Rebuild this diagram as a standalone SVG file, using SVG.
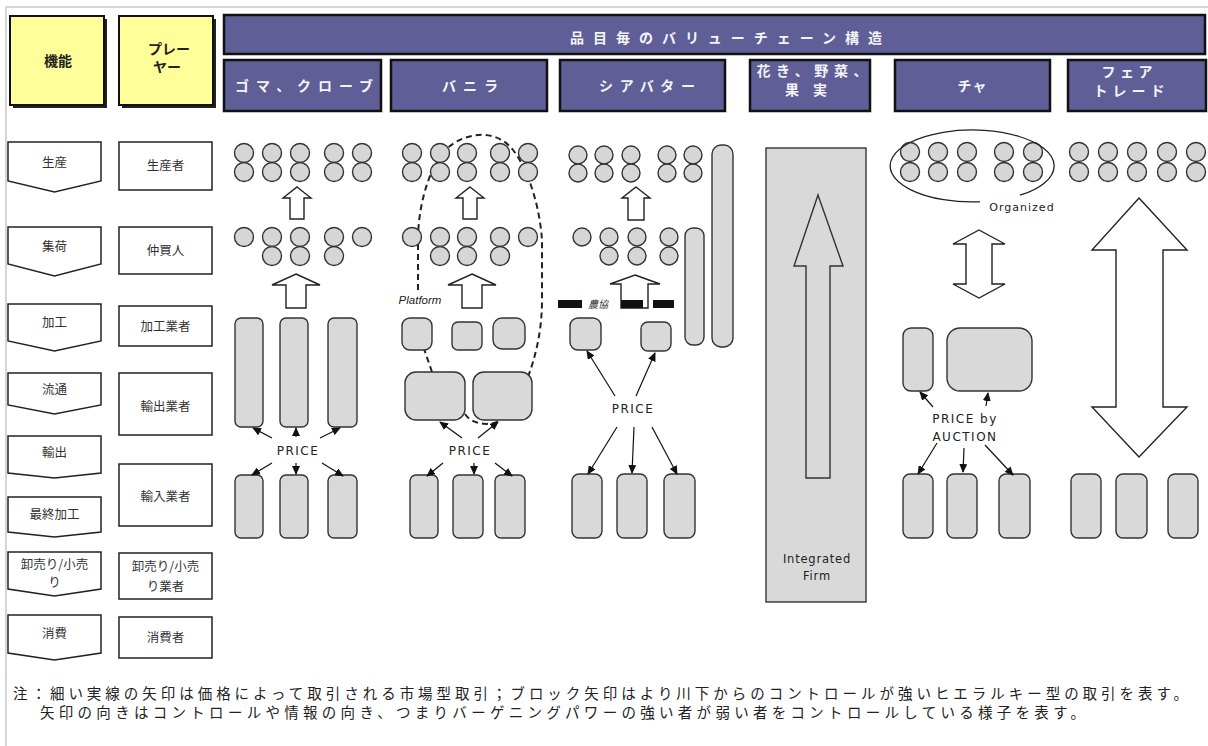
<svg xmlns="http://www.w3.org/2000/svg" width="1208" height="746" viewBox="0 0 1208 746">
<style>
.frame{fill:none;stroke:#c8c8c8;stroke-width:1.5}
.ybox{fill:#ffff99;stroke:#111;stroke-width:2}
.shadow{fill:#222}
.bbox{fill:#5f5e97;stroke:#111;stroke-width:2.5}
.htxt{font-family:"Noto Sans CJK JP",sans-serif;font-weight:bold;fill:#f4f4f8;font-size:14px;text-anchor:middle}
.ytxt{font-family:"Noto Sans CJK JP",sans-serif;font-weight:bold;fill:#222;font-size:14px;text-anchor:middle}
.lbox{fill:#fff;stroke:#222;stroke-width:1.5}
.ltxt{font-family:"Noto Sans CJK JP",sans-serif;fill:#333;font-size:12.5px;text-anchor:middle}
.c{fill:#d6d6d6;stroke:#333;stroke-width:1.4}
.g{fill:#d9d9d9;stroke:#333;stroke-width:1.4}
.blk{fill:#fff;stroke:#222;stroke-width:1.4}
.conn{stroke:#111;stroke-width:1.2;fill:none;marker-end:url(#ah)}
.dash{stroke:#222;stroke-width:2;fill:none;stroke-dasharray:6 4}
.etxt{font-family:"DejaVu Sans",sans-serif;font-size:12px;fill:#222;letter-spacing:1.5px;text-anchor:middle}
.note{font-family:"Noto Sans CJK JP",sans-serif;font-size:14.5px;fill:#222}
</style>
<defs>
<marker id="ah" markerWidth="9" markerHeight="8" refX="8" refY="4" orient="auto" markerUnits="userSpaceOnUse">
<path d="M0,0 L9,4 L0,8 Z" fill="#111"/>
</marker>
</defs>
<rect width="1208" height="746" fill="#fff"/>
<path class="frame" d="M6,746 V7 H1208"/>

<g id="hdr-kinou">
<rect class="shadow" x="13" y="19" width="94" height="89"/>
<rect class="ybox" x="10" y="16" width="94" height="89"/>
<text class="ytxt" x="58" y="66" font-size="15">機能</text>
</g>
<g id="hdr-player">
<rect class="shadow" x="122" y="19" width="94" height="89"/>
<rect class="ybox" x="119" y="16" width="94" height="89"/>
<text class="ytxt" x="169" y="54">プレー</text>
<text class="ytxt" x="167" y="72">ヤー</text>
</g>
<g id="hdr-title">
<rect class="bbox" x="224" y="15" width="981" height="39"/>
<text class="htxt" x="726" y="43" font-size="15" textLength="312" lengthAdjust="spacing">品目毎のバリューチェーン構造</text>
</g>
<g id="hdr-goma">
<rect class="bbox" x="224" y="60" width="157" height="51"/>
<text class="htxt" x="304" y="91" textLength="138" lengthAdjust="spacing">ゴマ、クローブ</text>
</g>
<g id="hdr-vanilla">
<rect class="bbox" x="391" y="60" width="156" height="51"/>
<text class="htxt" x="470" y="91" textLength="56" lengthAdjust="spacing">バニラ</text>
</g>
<g id="hdr-shea">
<rect class="bbox" x="560" y="60" width="165" height="51"/>
<text class="htxt" x="647" y="91" textLength="96" lengthAdjust="spacing">シアバター</text>
</g>
<g id="hdr-flower">
<rect class="bbox" x="750" y="60" width="120" height="51"/>
<text class="htxt" x="812" y="76" font-size="13.5" textLength="111" lengthAdjust="spacing">花き、野菜、</text>
<text class="htxt" x="806" y="95" font-size="13.5" textLength="42" lengthAdjust="spacing">果実</text>
</g>
<g id="hdr-tea">
<rect class="bbox" x="895" y="60" width="155" height="51"/>
<text class="htxt" x="972" y="91" textLength="29" lengthAdjust="spacing">チャ</text>
</g>
<g id="hdr-fair">
<rect class="bbox" x="1068" y="60" width="138" height="51"/>
<text class="htxt" x="1127" y="77" font-size="13.5" textLength="51" lengthAdjust="spacing">フェア</text>
<text class="htxt" x="1129" y="96" font-size="13.5" textLength="71" lengthAdjust="spacing">トレード</text>
</g>

<g id="fn-seisan"><polygon class="lbox" points="8,142 101,142 101,181 54.5,192 8,181"/><text class="ltxt" x="54.5" y="167">生産</text></g>
<g id="fn-shuka"><polygon class="lbox" points="8,227 101,227 101,264 54.5,276 8,264"/><text class="ltxt" x="54.5" y="251">集荷</text></g>
<g id="fn-kakou"><polygon class="lbox" points="8,304 101,304 101,341 54.5,351 8,341"/><text class="ltxt" x="54.5" y="327">加工</text></g>
<g id="fn-ryutsu"><polygon class="lbox" points="8,373 101,373 101,405 54.5,414 8,405"/><text class="ltxt" x="54.5" y="394">流通</text></g>
<g id="fn-yushutsu"><polygon class="lbox" points="8,436 101,436 101,473 54.5,478 8,473"/><text class="ltxt" x="54.5" y="457">輸出</text></g>
<g id="fn-saishu"><polygon class="lbox" points="8,497 101,497 101,532 54.5,537 8,532"/><text class="ltxt" x="54.5" y="519">最終加工</text></g>
<g id="fn-oroshi"><polygon class="lbox" points="8,552 101,552 101,589 54.5,596 8,589"/><text class="ltxt" x="54.5" y="569" font-size="12">卸売り/小売</text><text class="ltxt" x="54.5" y="587" font-size="12">り</text></g>
<g id="fn-shohi"><polygon class="lbox" points="8,615 101,615 101,653 54.5,660 8,653"/><text class="ltxt" x="54.5" y="638">消費</text></g>

<g id="pl-seisansha"><rect class="lbox" x="119" y="142" width="93" height="48"/><text class="ltxt" x="165.5" y="170">生産者</text></g>
<g id="pl-nakagai"><rect class="lbox" x="119" y="227" width="93" height="47"/><text class="ltxt" x="165.5" y="255">仲買人</text></g>
<g id="pl-kakou"><rect class="lbox" x="119" y="306" width="93" height="40"/><text class="ltxt" x="165.5" y="331">加工業者</text></g>
<g id="pl-yushutsu"><rect class="lbox" x="119" y="373" width="93" height="62"/><text class="ltxt" x="165.5" y="411">輸出業者</text></g>
<g id="pl-yunyu"><rect class="lbox" x="119" y="464" width="93" height="62"/><text class="ltxt" x="165.5" y="501">輸入業者</text></g>
<g id="pl-oroshi"><rect class="lbox" x="119" y="553" width="93" height="46"/><text class="ltxt" x="165.5" y="571" font-size="12">卸売り/小売</text><text class="ltxt" x="165.5" y="591" font-size="12">り業者</text></g>
<g id="pl-shohi"><rect class="lbox" x="119" y="617" width="93" height="41"/><text class="ltxt" x="165.5" y="642">消費者</text></g>

<g id="col-goma">
<g>
<circle class="c" cx="244" cy="153" r="9.5"/><circle class="c" cx="272" cy="153" r="9.5"/><circle class="c" cx="300" cy="153" r="9.5"/><circle class="c" cx="334" cy="153" r="9.5"/><circle class="c" cx="362" cy="153" r="9.5"/>
<circle class="c" cx="244" cy="172" r="9.5"/><circle class="c" cx="272" cy="172" r="9.5"/><circle class="c" cx="300" cy="172" r="9.5"/><circle class="c" cx="334" cy="172" r="9.5"/><circle class="c" cx="362" cy="172" r="9.5"/>
<circle class="c" cx="244" cy="237" r="9.5"/><circle class="c" cx="272" cy="237" r="9.5"/><circle class="c" cx="300" cy="237" r="9.5"/><circle class="c" cx="334" cy="237" r="9.5"/><circle class="c" cx="362" cy="237" r="9.5"/>
<circle class="c" cx="272" cy="256" r="9.5"/><circle class="c" cx="300" cy="256" r="9.5"/><circle class="c" cx="334" cy="256" r="9.5"/>
</g>
<polygon class="blk" points="297,187 311,198 304,198 304,219 290,219 290,198 283,198"/>
<polygon class="blk" points="296,274 320,285 306,285 306,308 286,308 286,285 272,285"/>
<rect class="g" x="235" y="318" width="28" height="109" rx="6"/>
<rect class="g" x="280" y="318" width="28" height="109" rx="6"/>
<rect class="g" x="328" y="318" width="29" height="109" rx="6"/>
<text class="etxt" x="298" y="455">PRICE</text>
<rect class="g" x="235" y="475" width="28" height="63" rx="6"/>
<rect class="g" x="280" y="475" width="28" height="63" rx="6"/>
<rect class="g" x="328" y="475" width="29" height="63" rx="6"/>
</g>

<g id="col-vanilla">
<path class="dash" d="M432,372 C428,360 424,350 420,335"/>
<path class="dash" d="M418,290 L418,240 C418,205 430,162 450,146 C466,133 496,128 513,150 C530,172 540,210 542,240 L542,300 C542,330 536,355 528,377"/>
<path class="dash" d="M465,414 C472,425 490,426 499,421"/>
<g>
<circle class="c" cx="412" cy="153" r="9.5"/><circle class="c" cx="440" cy="153" r="9.5"/><circle class="c" cx="467" cy="153" r="9.5"/><circle class="c" cx="500" cy="153" r="9.5"/><circle class="c" cx="528" cy="153" r="9.5"/>
<circle class="c" cx="412" cy="172" r="9.5"/><circle class="c" cx="440" cy="172" r="9.5"/><circle class="c" cx="467" cy="172" r="9.5"/><circle class="c" cx="500" cy="172" r="9.5"/><circle class="c" cx="528" cy="172" r="9.5"/>
<circle class="c" cx="412" cy="237" r="9.5"/><circle class="c" cx="440" cy="237" r="9.5"/><circle class="c" cx="467" cy="237" r="9.5"/><circle class="c" cx="500" cy="237" r="9.5"/><circle class="c" cx="528" cy="237" r="9.5"/>
<circle class="c" cx="440" cy="256" r="9.5"/><circle class="c" cx="467" cy="256" r="9.5"/><circle class="c" cx="500" cy="256" r="9.5"/>
</g>
<polygon class="blk" points="470,187 484,198 477,198 477,219 463,219 463,198 456,198"/>
<polygon class="blk" points="472,274 496,285 482,285 482,308 462,308 462,285 448,285"/>
<text x="420" y="304" font-family="Liberation Sans, sans-serif" font-style="italic" font-size="11.5" fill="#222" text-anchor="middle">Platform</text>
<rect class="g" x="402" y="318" width="30" height="32" rx="8"/>
<rect class="g" x="452" y="322" width="30" height="28" rx="6"/>
<rect class="g" x="493" y="318" width="32" height="31" rx="9"/>
<rect class="g" x="405" y="372" width="60" height="48" rx="11"/>
<rect class="g" x="473" y="372" width="59" height="48" rx="11"/>
<text class="etxt" x="470" y="455">PRICE</text>
<rect class="g" x="410" y="475" width="28" height="63" rx="6"/>
<rect class="g" x="453" y="475" width="30" height="63" rx="6"/>
<rect class="g" x="495" y="475" width="30" height="63" rx="6"/>
</g>

<g id="col-shea">
<g>
<circle class="c" cx="578" cy="155" r="9"/><circle class="c" cx="604" cy="155" r="9"/><circle class="c" cx="631" cy="155" r="9"/><circle class="c" cx="667" cy="155" r="9"/><circle class="c" cx="693" cy="155" r="9"/>
<circle class="c" cx="578" cy="173" r="9"/><circle class="c" cx="604" cy="173" r="9"/><circle class="c" cx="631" cy="173" r="9"/><circle class="c" cx="667" cy="173" r="9"/><circle class="c" cx="693" cy="173" r="9"/>
<circle class="c" cx="582" cy="237" r="9"/><circle class="c" cx="609" cy="237" r="9"/><circle class="c" cx="637" cy="237" r="9"/><circle class="c" cx="669" cy="237" r="9"/>
<circle class="c" cx="609" cy="256" r="9"/><circle class="c" cx="637" cy="256" r="9"/><circle class="c" cx="669" cy="256" r="9"/>
</g>
<rect class="g" x="685" y="228" width="19" height="117" rx="8"/>
<rect class="g" x="712" y="145" width="21" height="202" rx="9"/>
<polygon class="blk" points="636,187 650,198 644,198 644,220 628,220 628,198 622,198"/>
<polygon class="blk" points="635,275 660,284 648,284 648,308 621,308 621,284 610,284"/>
<rect x="558" y="300" width="24" height="8" fill="#111"/>
<rect x="621" y="300" width="22" height="8" fill="#111"/>
<rect x="653" y="300" width="21" height="8" fill="#111"/>
<text x="598" y="308" font-family="Noto Sans CJK JP, sans-serif" font-style="italic" font-size="10" fill="#333" text-anchor="middle">農協</text>
<rect class="g" x="570" y="318" width="31" height="32" rx="8"/>
<rect class="g" x="641" y="322" width="30" height="29" rx="7"/>
<text class="etxt" x="633" y="413">PRICE</text>
<rect class="g" x="572" y="474" width="30" height="64" rx="7"/>
<rect class="g" x="617" y="474" width="30" height="64" rx="7"/>
<rect class="g" x="664" y="474" width="31" height="64" rx="7"/>
</g>

<g id="col-flower">
<rect class="g" x="766" y="148" width="100" height="454"/>
<polygon class="g" points="818,195 843,266 830,266 830,478 806,478 806,266 794,266"/>
<text x="817" y="563" font-family="DejaVu Sans, sans-serif" font-size="11.5" fill="#222" text-anchor="middle" letter-spacing="0.8">Integrated</text>
<text x="817" y="580" font-family="DejaVu Sans, sans-serif" font-size="11.5" fill="#222" text-anchor="middle" letter-spacing="0.8">Firm</text>
</g>

<g id="col-tea">
<g>
<circle class="c" cx="910" cy="152" r="9.5"/><circle class="c" cx="938" cy="152" r="9.5"/><circle class="c" cx="967" cy="152" r="9.5"/><circle class="c" cx="1004" cy="152" r="9.5"/><circle class="c" cx="1033" cy="152" r="9.5"/>
<circle class="c" cx="910" cy="172" r="9.5"/><circle class="c" cx="938" cy="172" r="9.5"/><circle class="c" cx="967" cy="172" r="9.5"/><circle class="c" cx="1004" cy="172" r="9.5"/><circle class="c" cx="1033" cy="172" r="9.5"/>
</g>
<path d="M1020,195.2 A82,36 0 1 0 980,201.8" fill="none" stroke="#222" stroke-width="1.3"/>
<text x="1022" y="211" font-family="DejaVu Sans, sans-serif" font-size="11" fill="#222" text-anchor="middle" letter-spacing="1">Organized</text>
<polygon class="blk" points="979,230 1005,244 992,244 992,284 1005,284 979,298 953,284 966,284 966,244 953,244"/>
<rect class="g" x="903" y="328" width="30" height="63" rx="8"/>
<rect class="g" x="947" y="328" width="85" height="63" rx="13"/>
<text class="etxt" x="965" y="423" letter-spacing="1">PRICE by</text>
<text class="etxt" x="965" y="441" letter-spacing="1">AUCTION</text>
<rect class="g" x="903" y="474" width="30" height="64" rx="7"/>
<rect class="g" x="947" y="474" width="30" height="64" rx="7"/>
<rect class="g" x="999" y="474" width="31" height="64" rx="7"/>
</g>

<g id="col-fair">
<g>
<circle class="c" cx="1079" cy="152" r="9.5"/><circle class="c" cx="1108" cy="152" r="9.5"/><circle class="c" cx="1137" cy="152" r="9.5"/><circle class="c" cx="1167" cy="152" r="9.5"/><circle class="c" cx="1196" cy="152" r="9.5"/>
<circle class="c" cx="1079" cy="172" r="9.5"/><circle class="c" cx="1108" cy="172" r="9.5"/><circle class="c" cx="1137" cy="172" r="9.5"/><circle class="c" cx="1167" cy="172" r="9.5"/><circle class="c" cx="1196" cy="172" r="9.5"/>
</g>
<polygon class="blk" points="1139,198 1187,250 1163,250 1163,407 1187,407 1139,457 1092,407 1116,407 1116,250 1092,250"/>
<rect class="g" x="1071" y="474" width="30" height="64" rx="7"/>
<rect class="g" x="1116" y="474" width="31" height="64" rx="7"/>
<rect class="g" x="1168" y="474" width="30" height="64" rx="7"/>
</g>

<g id="connectors">
<line class="conn" x1="272" y1="438" x2="253" y2="428"/>
<line class="conn" x1="296" y1="437" x2="296" y2="428"/>
<line class="conn" x1="320" y1="438" x2="340" y2="428"/>
<line class="conn" x1="272" y1="463" x2="252" y2="475"/>
<line class="conn" x1="296" y1="463" x2="296" y2="474"/>
<line class="conn" x1="322" y1="463" x2="343" y2="476"/>
<line class="conn" x1="462" y1="438" x2="440" y2="422"/>
<line class="conn" x1="478" y1="438" x2="498" y2="422"/>
<line class="conn" x1="443" y1="463" x2="427" y2="476"/>
<line class="conn" x1="474" y1="463" x2="474" y2="474"/>
<line class="conn" x1="495" y1="463" x2="512" y2="476"/>
<line class="conn" x1="615" y1="396" x2="587" y2="351"/>
<line class="conn" x1="636" y1="396" x2="655" y2="353"/>
<line class="conn" x1="617" y1="427" x2="588" y2="474"/>
<line class="conn" x1="634" y1="427" x2="632" y2="473"/>
<line class="conn" x1="652" y1="427" x2="677" y2="474"/>
<line class="conn" x1="933" y1="407" x2="920" y2="392"/>
<line class="conn" x1="986" y1="406" x2="988" y2="393"/>
<line class="conn" x1="937" y1="443" x2="918" y2="474"/>
<line class="conn" x1="964" y1="448" x2="963" y2="472"/>
<line class="conn" x1="985" y1="445" x2="1013" y2="475"/>
</g>

<g id="note">
<text class="note" x="13" y="699" textLength="1175" lengthAdjust="spacing">注：細い実線の矢印は価格によって取引される市場型取引；ブロック矢印はより川下からのコントロールが強いヒエラルキー型の取引を表す。</text>
<text class="note" x="40" y="718" textLength="1045" lengthAdjust="spacing">矢印の向きはコントロールや情報の向き、つまりバーゲニングパワーの強い者が弱い者をコントロールしている様子を表す。</text>
</g>
</svg>
